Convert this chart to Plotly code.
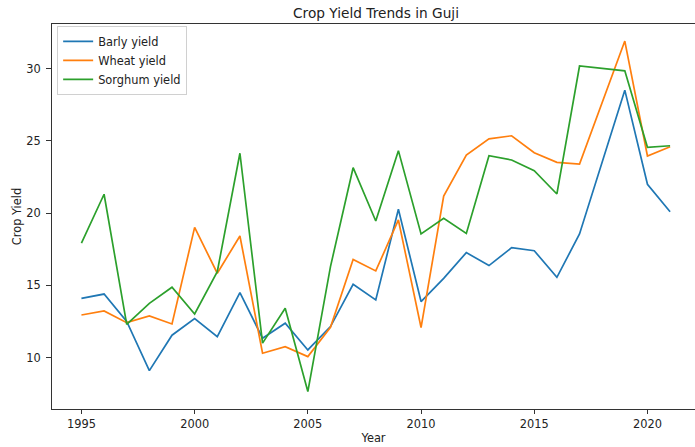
import plotly.graph_objects as go

# Annual crop yields for Guji zone
years = list(range(1995, 2022))

barley_yield = [14.1, 14.4, 12.5, 9.1, 11.55, 12.7, 11.45, 14.5, 11.34, 12.38,
                10.53, 12.15, 15.08, 13.99, 20.27, 13.88, 15.49, 17.27, 16.37, 17.61,
                17.4, 15.56, 18.56, 23.5, 28.52, 22.0, 20.1]

wheat_yield = [12.95, 13.23, 12.42, 12.89, 12.33, 19.02, 15.84, 18.42, 10.3, 10.76,
               10.07, 12.1, 16.8, 16.0, 19.53, 12.08, 21.19, 24.03, 25.15, 25.36,
               24.19, 23.52, 23.4, 27.65, 31.92, 23.96, 24.6]

sorghum_yield = [17.92, 21.31, 12.3, 13.76, 14.87, 13.02, 15.95, 24.15, 11.0, 13.42,
                 7.65, 16.3, 23.15, 19.46, 24.33, 18.56, 19.64, 18.6, 23.98, 23.68,
                 22.94, 21.33, 30.19, 30.0, 29.86, 24.56, 24.67]

series_names = ["Barly yield", "Wheat yield", "Sorghum yield"]
series_colors = ["#1f77b4", "#ff7f0e", "#2ca02c"]
x_ticks = [1995, 2000, 2005, 2010, 2015, 2020]
y_ticks = [10, 15, 20, 25, 30]

FONT = "DejaVu Sans"
TEXT = "#222222"

fig = go.Figure()
for name, values, color in zip(series_names,
                               [barley_yield, wheat_yield, sorghum_yield],
                               series_colors):
    fig.add_trace(go.Scatter(
        x=years, y=values, mode="lines", name=name,
        line=dict(color=color, width=1.7),
    ))

fig.update_layout(
    width=695, height=447,
    margin=dict(l=52, r=0, t=24, b=38),
    paper_bgcolor="white", plot_bgcolor="white",
    font=dict(family=FONT, size=11.4, color=TEXT),
    title=dict(text="Crop Yield Trends in Guji", x=376 / 695, xref="container",
               xanchor="center", y=1 - 13 / 447, yref="container", yanchor="middle",
               font=dict(family=FONT, size=13.7, color=TEXT)),
    legend=dict(x=0.008, y=0.995, xanchor="left", yanchor="top",
                bgcolor="rgba(255,255,255,0.85)", bordercolor="#d0d0d0", borderwidth=1,
                font=dict(family=FONT, size=11.4, color=TEXT),
                itemwidth=30, tracegroupgap=0),
    showlegend=True,
)

fig.update_xaxes(
    range=[1993.7, 2022.1], tickvals=x_ticks, ticktext=[str(t) for t in x_ticks],
    showgrid=False, zeroline=False,
    showline=True, linecolor="#333333", linewidth=1, mirror=True,
    ticks="outside", ticklen=4, tickcolor="#333333", tickwidth=1,
    tickfont=dict(family=FONT, size=11.4, color=TEXT),
    title=dict(text="Year", standoff=4, font=dict(family=FONT, size=11.4, color=TEXT)),
)
fig.update_yaxes(
    range=[6.44, 33.1], tickvals=y_ticks, ticktext=[str(t) for t in y_ticks],
    showgrid=False, zeroline=False,
    showline=True, linecolor="#333333", linewidth=1, mirror=False,
    ticks="outside", ticklen=5, tickcolor="#333333", tickwidth=1,
    ticklabelstandoff=3,
    tickfont=dict(family=FONT, size=11.4, color=TEXT),
    title=dict(text="Crop Yield", standoff=2, font=dict(family=FONT, size=11.4, color=TEXT)),
)

fig.write_html("out.html")
